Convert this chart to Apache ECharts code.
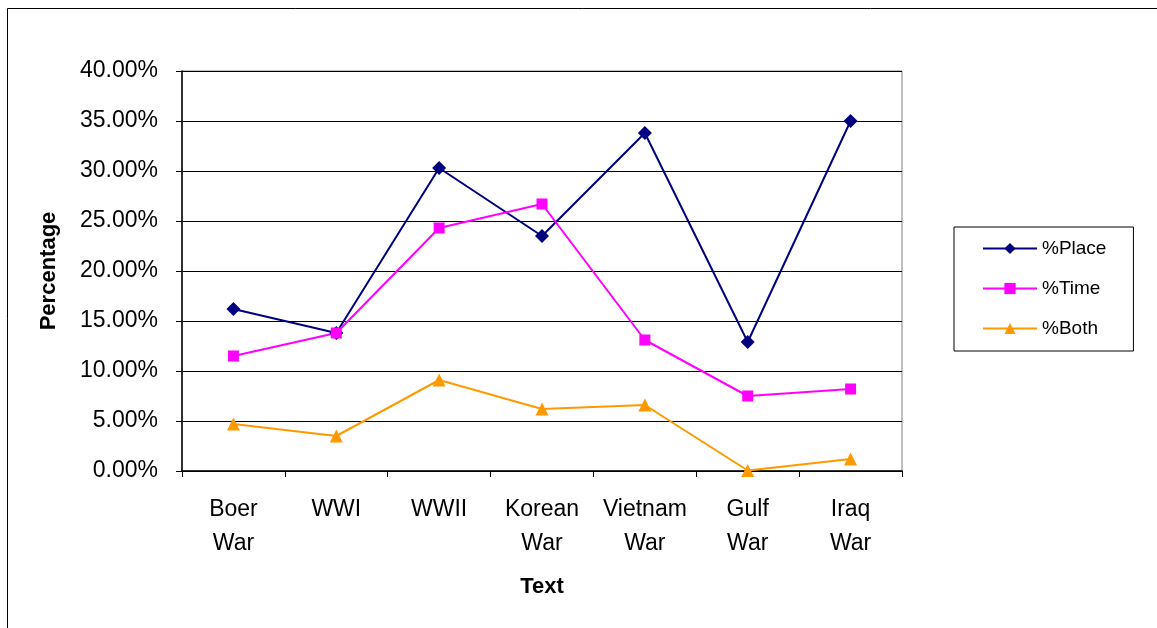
<!DOCTYPE html>
<html>
<head>
<meta charset="utf-8">
<style>
html,body{margin:0;padding:0;background:#fff;}
#chart{width:1157px;height:628px;}
</style>
<script src="https://cdn.jsdelivr.net/npm/echarts@6/dist/echarts.min.js"></script>
</head>
<body>
<div id="chart"></div>
<script>
var categories = ['Boer\nWar', 'WWI', 'WWII', 'Korean\nWar', 'Vietnam\nWar', 'Gulf\nWar', 'Iraq\nWar'];
var placeValues = [16.2, 13.8, 30.3, 23.5, 33.8, 12.9, 35.0];
var timeValues = [11.5, 13.8, 24.3, 26.7, 13.1, 7.5, 8.2];
var bothValues = [4.7, 3.5, 9.1, 6.2, 6.6, 0.05, 1.2];
var yTicks = [0, 5, 10, 15, 20, 25, 30, 35, 40];

var chart = echarts.init(document.getElementById('chart'));
var font = 'Liberation Sans, Arial, sans-serif';
chart.setOption({
  backgroundColor: '#fff',
  animation: false,
  textStyle: {fontFamily: font, color: '#000'},
  graphic: [{
    type: 'rect',
    shape: {x: 7.5, y: 8.5, width: 1170, height: 640},
    style: {fill: 'none', stroke: '#000', lineWidth: 1},
    silent: true
  }],
  grid: {
    left: 182, right: 255, top: 71, bottom: 157,
    show: true, borderColor: '#808080', borderWidth: 1, backgroundColor: 'transparent'
  },
  legend: {
    orient: 'vertical',
    left: 954, top: 227,
    padding: [12, 27, 13, 28],
    itemWidth: 54, itemHeight: 14, itemGap: 21,
    borderColor: '#000', borderWidth: 1,
    textStyle: {fontFamily: font, fontSize: 19, color: '#000'},
    data: ['%Place', '%Time', '%Both']
  },
  xAxis: {
    type: 'category',
    data: categories,
    boundaryGap: true,
    name: 'Text',
    nameLocation: 'middle',
    nameGap: 105,
    nameTextStyle: {fontFamily: font, fontSize: 22, fontWeight: 'bold', color: '#000'},
    axisLine: {lineStyle: {color: '#000', width: 1.5}},
    axisTick: {show: true, inside: false, length: 6, alignWithLabel: false, lineStyle: {color: '#000'}},
    axisLabel: {fontFamily: font, fontSize: 23, color: '#000', margin: 22, lineHeight: 34, interval: 0}
  },
  yAxis: {
    type: 'value',
    min: yTicks[0], max: yTicks[yTicks.length - 1], interval: 5,
    name: 'Percentage',
    nameLocation: 'middle',
    nameGap: 122,
    nameRotate: 90,
    nameTextStyle: {fontFamily: font, fontSize: 22, fontWeight: 'bold', color: '#000'},
    axisLine: {show: true, lineStyle: {color: '#000', width: 1.5}},
    axisTick: {show: true, inside: false, length: 6, lineStyle: {color: '#000'}},
    splitLine: {show: true, lineStyle: {color: '#000', width: 1}},
    axisLabel: {
      fontFamily: font, fontSize: 23, color: '#000', margin: 24,
      formatter: function (v) { return v.toFixed(2) + '%'; }
    }
  },
  series: [
    {
      name: '%Place', type: 'line', data: placeValues,
      symbol: 'diamond', symbolSize: 14,
      itemStyle: {color: '#000080'},
      lineStyle: {color: '#000080', width: 2}
    },
    {
      name: '%Time', type: 'line', data: timeValues,
      symbol: 'rect', symbolSize: 11,
      itemStyle: {color: '#FF00FF'},
      lineStyle: {color: '#FF00FF', width: 2}
    },
    {
      name: '%Both', type: 'line', data: bothValues,
      symbol: 'triangle', symbolSize: 13,
      itemStyle: {color: '#FF9900'},
      lineStyle: {color: '#FF9900', width: 2}
    }
  ]
});
</script>
</body>
</html>
